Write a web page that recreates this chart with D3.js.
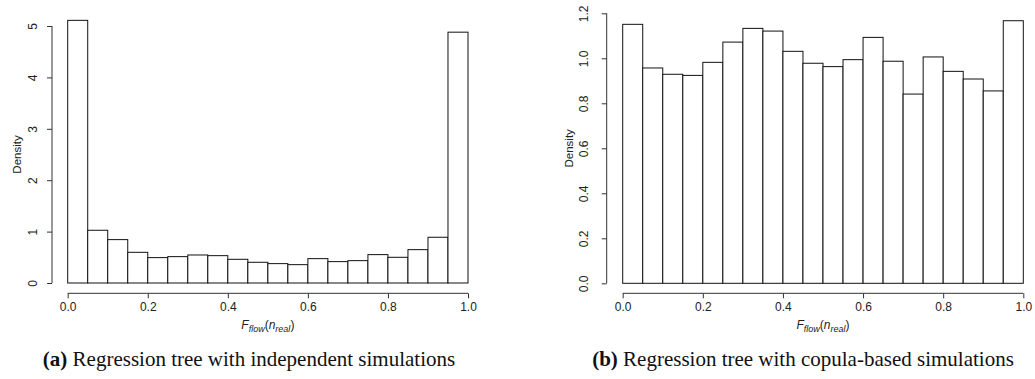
<!DOCTYPE html>
<html>
<head>
<meta charset="utf-8">
<script src="https://cdn.jsdelivr.net/npm/d3@7"></script>
<style>
  html, body { margin: 0; padding: 0; background: #fff; }
  svg { display: block; }
  .tick text { font-family: "Liberation Sans", Arial, sans-serif; font-size: 12px; fill: #222; }
</style>
</head>
<body>
<svg id="chart" width="1035" height="379"></svg>
<script>
// Histogram bin edges (F_flow values)
const binEdges = [0.00, 0.05, 0.10, 0.15, 0.20, 0.25, 0.30, 0.35, 0.40, 0.45, 0.50,
                  0.55, 0.60, 0.65, 0.70, 0.75, 0.80, 0.85, 0.90, 0.95, 1.00];

// (a) Regression tree with independent simulations
const densityIndependent = [5.11, 1.026, 0.844, 0.597, 0.494, 0.513, 0.545, 0.532, 0.461, 0.403,
                            0.377, 0.357, 0.474, 0.416, 0.435, 0.552, 0.500, 0.649, 0.890, 4.88];
// (b) Regression tree with copula-based simulations
const densityCopula = [1.151, 0.957, 0.929, 0.924, 0.982, 1.072, 1.133, 1.121, 1.031, 0.978,
                       0.963, 0.994, 1.093, 0.987, 0.841, 1.006, 0.942, 0.908, 0.855, 1.167];

const xTicks = [0.0, 0.2, 0.4, 0.6, 0.8, 1.0];
const yTicksA = [0, 1, 2, 3, 4, 5];
const yTicksB = [0.0, 0.2, 0.4, 0.6, 0.8, 1.0, 1.2];

const captionA = { label: "(a)", text: " Regression tree with independent simulations" };
const captionB = { label: "(b)", text: " Regression tree with copula-based simulations" };

const svg = d3.select("#chart");

function panel(cfg) {
  const g = svg.append("g");
  const x = d3.scaleLinear().domain([0, 1]).range([cfg.x0, cfg.x1]);
  const y = d3.scaleLinear().domain([0, cfg.yMax]).range([cfg.yBase, cfg.yTop]);

  const bins = cfg.values.map((v, i) => ({ x0: binEdges[i], x1: binEdges[i + 1], v }));
  g.selectAll("rect.bar").data(bins).enter().append("rect")
    .attr("class", "bar")
    .attr("x", d => x(d.x0))
    .attr("width", d => x(d.x1) - x(d.x0))
    .attr("y", d => y(d.v))
    .attr("height", d => y(0) - y(d.v))
    .attr("fill", "#fff")
    .attr("stroke", "#111")
    .attr("stroke-width", 1);

  // x axis
  const xa = g.append("g").attr("transform", `translate(0,${cfg.xAxisY})`)
    .call(d3.axisBottom(x).tickValues(xTicks).tickFormat(d3.format(".1f")).tickSize(5).tickPadding(4));
  xa.select(".domain").attr("stroke", "#333").attr("d", `M${x(0)},0H${x(1)}`);
  xa.selectAll(".tick line").attr("stroke", "#333");

  // y axis
  const ya = g.append("g").attr("transform", `translate(${cfg.yAxisX},0)`)
    .call(d3.axisLeft(y).tickValues(cfg.yTicks).tickFormat(cfg.yFmt).tickSize(5).tickPadding(0));
  ya.select(".domain").attr("stroke", "#333").attr("d", `M0,${y(0)}V${y(cfg.yMax)}`);
  ya.selectAll(".tick line").attr("stroke", "#333");
  ya.selectAll(".tick text")
    .attr("x", null).attr("dy", null)
    .attr("text-anchor", "middle")
    .attr("transform", `translate(${cfg.yLabelX - cfg.yAxisX},0) rotate(-90)`)
    .attr("dy", "0.35em");

  // y title
  g.append("text")
    .attr("transform", `translate(${cfg.densityX},${(y(0) + y(cfg.yMax)) / 2}) rotate(-90)`)
    .attr("text-anchor", "middle")
    .attr("dy", "0.35em")
    .attr("font-family", "Liberation Sans, Arial, sans-serif")
    .attr("font-size", 11.5)
    .attr("fill", "#222")
    .text("Density");

  // x title: F_flow(n_real)
  const xt = g.append("text")
    .attr("x", (x(0) + x(1)) / 2)
    .attr("y", cfg.xTitleY)
    .attr("text-anchor", "middle")
    .attr("font-family", "Liberation Sans, Arial, sans-serif")
    .attr("font-size", 12)
    .attr("fill", "#222");
  xt.append("tspan").attr("font-style", "italic").text("F");
  xt.append("tspan").attr("font-style", "italic").attr("font-size", 9).attr("dy", 3).text("flow");
  xt.append("tspan").attr("dy", -3).text("(");
  xt.append("tspan").attr("font-style", "italic").text("n");
  xt.append("tspan").attr("font-style", "italic").attr("font-size", 9).attr("dy", 3).text("real");
  xt.append("tspan").attr("dy", -3).text(")");

  // caption
  const cap = g.append("text")
    .attr("x", cfg.capX)
    .attr("y", cfg.capY)
    .attr("text-anchor", "middle")
    .attr("font-family", "Liberation Serif, Times New Roman, serif")
    .attr("font-size", 21)
    .attr("fill", "#111");
  cap.append("tspan").attr("font-weight", "bold").text(cfg.caption.label);
  cap.append("tspan").text(cfg.caption.text);
}

panel({
  values: densityIndependent, yMax: 5, yTicks: yTicksA, yFmt: d3.format("d"),
  x0: 67.7, x1: 468, yBase: 283, yTop: 26,
  xAxisY: 293.3, yAxisX: 52, yLabelX: 33, densityX: 16.7,
  xTitleY: 329, capX: 249, capY: 366, caption: captionA
});

panel({
  values: densityCopula, yMax: 1.2, yTicks: yTicksB, yFmt: d3.format(".1f"),
  x0: 622.7, x1: 1023.3, yBase: 283.3, yTop: 13.3,
  xAxisY: 293.3, yAxisX: 606.7, yLabelX: 584, densityX: 569,
  xTitleY: 329, capX: 803, capY: 366, caption: captionB
});
</script>
</body>
</html>
